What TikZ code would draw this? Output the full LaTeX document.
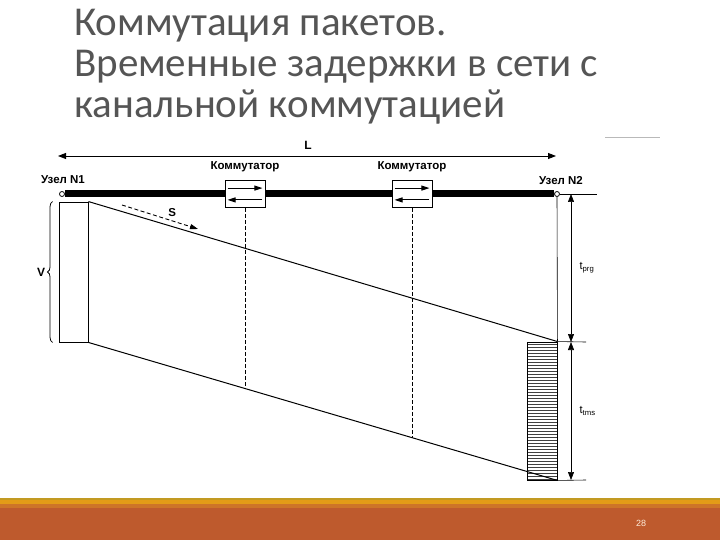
\documentclass[tikz,border=0pt]{standalone}
\usepackage{fontspec}
\setmainfont{Liberation Sans}
\newfontfamily\titlefont{Carlito}
\usetikzlibrary{arrows.meta,positioning,calc,patterns,decorations.pathreplacing}
\definecolor{titlegray}{HTML}{555555}
\definecolor{barrust}{HTML}{BE5A2D}
\definecolor{bardark}{HTML}{CD7428}
\definecolor{barorange}{HTML}{E39B17}
\definecolor{bargold}{HTML}{C29A22}

\begin{document}
\begin{tikzpicture}[
    x=1pt,y=-1pt,
    titleline/.style={anchor=base west,inner sep=0pt,text=titlegray,font=\titlefont\fontsize{41}{42}\selectfont},
    lbl/.style={inner sep=1pt,font=\fontsize{11.5}{13}\selectfont\bfseries},
    nodept/.style={circle,draw,fill=white,line width=0.8pt,inner sep=0pt,minimum size=5pt},
    switchbox/.style={rectangle,draw,fill=white,line width=0.8pt,minimum width=40pt,minimum height=27pt},
    bus/.style={line width=7pt},
    pkt/.style={rectangle,draw,line width=0.9pt,minimum width=29pt,minimum height=140pt},
    slant/.style={line width=1pt},
    vdash/.style={line width=0.8pt,dash pattern=on 4pt off 2pt},
    sarrow/.style={-{Triangle[length=8pt,width=5pt]},line width=1pt},
    sdash/.style={-{Triangle[length=8pt,width=5pt]},line width=0.9pt,dash pattern=on 4pt off 2.5pt},
    dimarrow/.style={{Triangle[length=8pt,width=6pt]}-{Triangle[length=8pt,width=6pt]},line width=0.6pt},
    thinline/.style={line width=0.6pt}
]
\useasboundingbox (0,0) rectangle (720,540);

% Title
\node[titleline] (title1) at (74,36) {Коммутация пакетов.};
\node[titleline] (title2) at (74,77) {Временные задержки в сети с};
\node[titleline] (title3) at (74,118) {канальной коммутацией};
\draw[gray!55,line width=0.8pt] (605,137) -- (660,137);

% Footer bar
\fill[barrust] (0,508) rectangle (720,540);
\fill[bardark] (0,504) rectangle (720,508);
\fill[barorange] (0,500) rectangle (720,504);
\fill[bargold] (0,498) rectangle (720,500);
\node[text=white!85!orange,font=\fontsize{9}{10}\selectfont] (pgnum) at (641,523) {28};

% Length L
\coordinate (la) at (58,156);
\coordinate (lb) at (556,156);
\draw[dimarrow,line width=0.9pt] (la) -- (lb);
\node[lbl,font=\fontsize{12}{14}\selectfont\bfseries] (llbl) at (308,145) {L};

% End nodes
\node[nodept] (n1) at (62,194) {};
\node[nodept] (n2) at (557,194) {};
\node[lbl] (n1lbl) at (63,180) {Узел N1};
\node[lbl] (n2lbl) at (561,181) {Узел N2};

% Switches
\node[switchbox] (sw1) at (245,194) {};
\node[switchbox] (sw2) at (412,194) {};
\node[lbl] (sw1lbl) at (245,167) {Коммутатор};
\node[lbl] (sw2lbl) at (412,167) {Коммутатор};

% Bus
\draw[bus] (n1) -- (sw1);
\draw[bus] (sw1) -- (sw2);
\draw[bus] (sw2) -- (n2);
\foreach \s in {sw1,sw2} {
  \draw[sarrow] ([shift={(3,8)}]\s.north west) -- ([shift={(-3,8)}]\s.north east);
  \draw[sarrow] ([shift={(-3,-8)}]\s.south east) -- ([shift={(3,-8)}]\s.south west);
}

% Packets
\node[pkt] (pkt1) at (73.5,272) {};
\node[pkt,minimum width=30pt,minimum height=138pt,pattern=horizontal lines,pattern color=black!75] (pkt2) at (542,411) {};
\draw[slant] (pkt1.north east) -- (pkt2.north east);
\draw[slant] (pkt1.south east) -- (pkt2.south east);

% Switch delays
\coordinate (d1) at ($(pkt1.south east)!0.335!(pkt2.south east)$);
\coordinate (d2) at ($(pkt1.south east)!0.691!(pkt2.south east)$);
\draw[vdash] (sw1.south) -- (sw1.south |- d1);
\draw[vdash] (sw2.south) -- (sw2.south |- d2);

% Signal speed
\coordinate (s1) at (122,205);
\coordinate (s2) at (198,229);
\draw[sdash] (s1) -- node[lbl,pos=0.66,above=3pt] {S} (s2);

% Packet volume
\draw[decorate,decoration={brace,amplitude=5pt},line width=0.8pt]
  ([xshift=-6pt]pkt1.south west) -- ([xshift=-6pt]pkt1.north west)
  node[lbl,midway,left=6pt,font=\fontsize{12}{14}\selectfont\bfseries] {V};

% Delay times
\coordinate (e0) at (597,194);
\coordinate (e1) at (586,342);
\coordinate (e2) at (586,480);
\coordinate (dimx) at (571,0);
\draw[thinline] (n2) -- (pkt2.north east);
\draw[thinline] (n2) -- (e0);
\draw[thinline] (pkt2.north east) -- (e1);
\draw[thinline] (pkt2.south east) -- (e2);
\draw[dimarrow] (dimx |- e0) -- node[midway,right=5pt,font=\fontsize{11}{13}\selectfont] {t\textsubscript{prg}} (dimx |- e1);
\draw[dimarrow] (dimx |- e1) -- node[midway,right=5pt,font=\fontsize{11}{13}\selectfont] {t\textsubscript{tms}} (dimx |- e2);
\end{tikzpicture}
\end{document}
